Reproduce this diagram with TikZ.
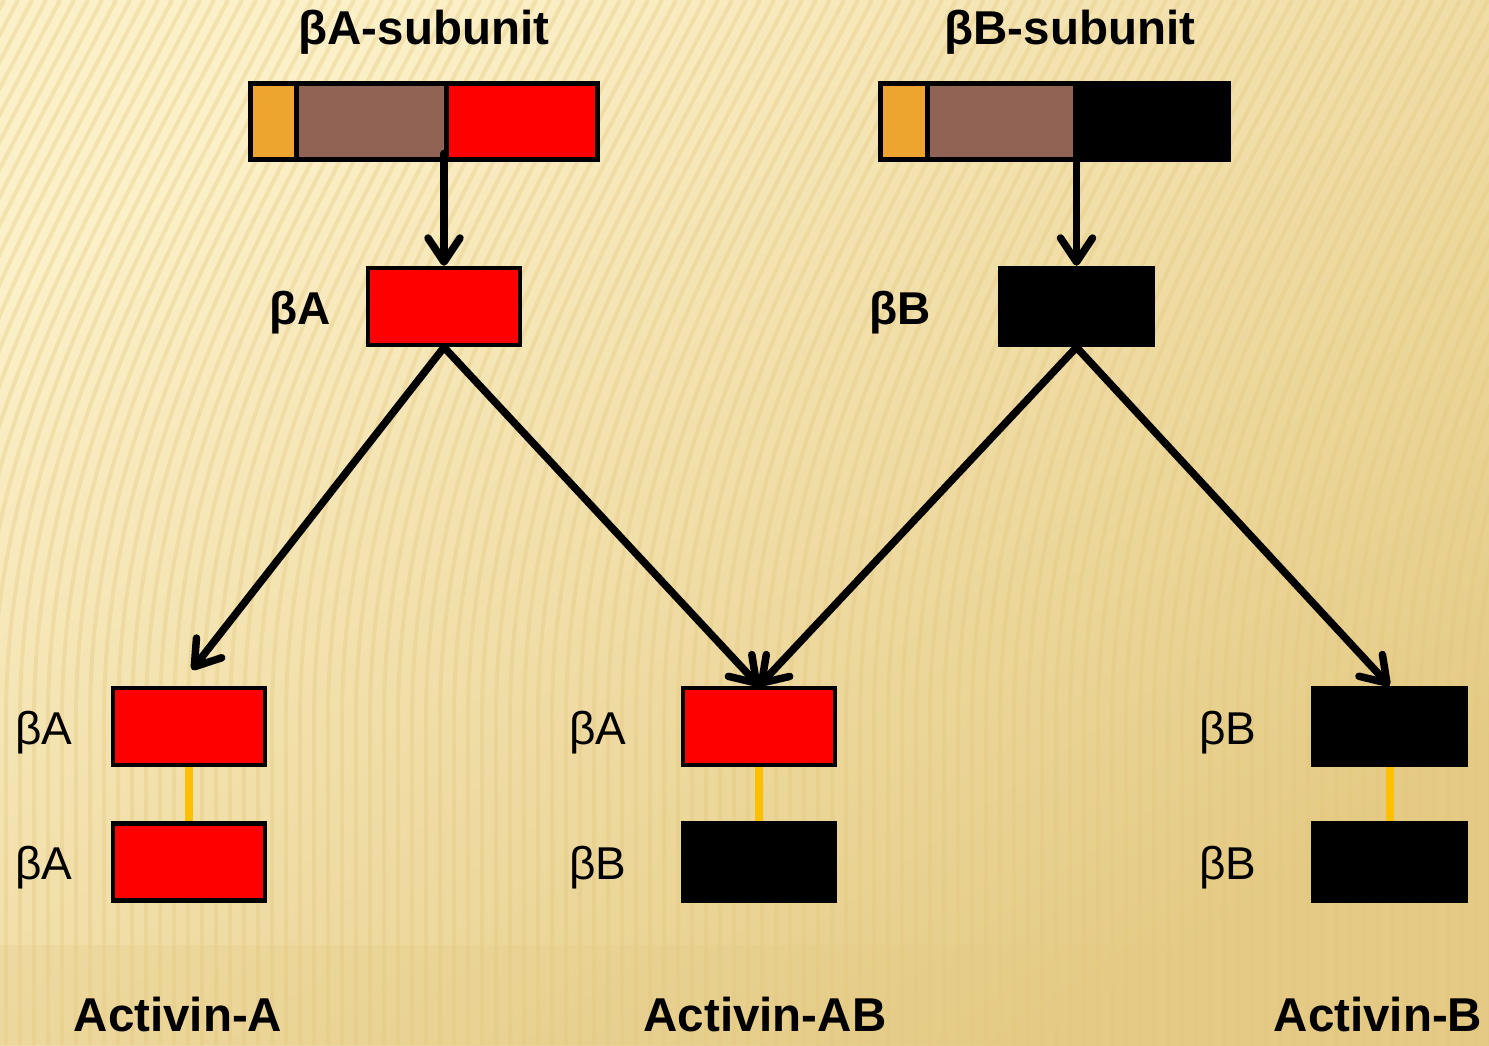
\documentclass[tikz,border=0pt]{standalone}
\usepackage{fontspec}
\setmainfont{Liberation Sans}
\usetikzlibrary{arrows.meta}
\definecolor{bgLight}{HTML}{FCF0C8}
\definecolor{bgDark}{HTML}{E4CA84}
\definecolor{stripeTan}{HTML}{E3C77E}
\definecolor{sigOrange}{HTML}{EEA530}
\definecolor{proBrown}{HTML}{916354}
\definecolor{linkGold}{HTML}{FFC000}
\begin{document}
\begin{tikzpicture}[x=1pt,y=-1pt,
  seg/.style={draw=black, line width=4.5pt, minimum height=76pt, inner sep=0pt,
              anchor=north west},
  mono/.style={draw=black, line width=4.5pt, minimum width=152pt,
               minimum height=77pt, inner sep=0pt},
  redbox/.style={mono, fill=red},
  blackbox/.style={mono, fill=black},
  arr/.style={line width=7.5pt, line cap=round,
              -{Straight Barb[length=24pt,width=32pt,line cap=round,line join=round]}},
  link/.style={draw=linkGold, line width=8pt},
  title/.style={font=\bfseries\fontsize{47.5}{56}\selectfont},
  tag/.style={font=\fontsize{46}{55}\selectfont},
  boldtag/.style={font=\bfseries\fontsize{46}{55}\selectfont}]

% canvas and striped backdrop
\useasboundingbox (0,0) rectangle (1489,1045);
\begin{scope}
  \clip (0,0) rectangle (1489,1045);
  \shade[top color=bgLight, bottom color=bgDark, shading angle=35]
    (0,0) rectangle (1489,1045);
  \foreach \x in {-400,-386,...,1500}{
    \draw[stripeTan, line width=4pt, opacity=0.35]
      (\x,1045) -- (\x,720) .. controls (\x,450) and (\x+120,250) .. (\x+250,0);
  }
  \fill[bgDark, opacity=0.25] (0,945) rectangle (1489,1045);
\end{scope}

% precursor bars
\node[seg, fill=sigOrange, minimum width=46pt]  (aSig) at (248,81) {};
\node[seg, fill=proBrown,  minimum width=150pt] (aPro) at (294,81) {};
\node[seg, fill=red,       minimum width=151pt] (aMat) at (444,81) {};
\node[seg, fill=sigOrange, minimum width=47pt]  (bSig) at (878,81) {};
\node[seg, fill=proBrown,  minimum width=148pt] (bPro) at (925,81) {};
\node[seg, fill=black,     minimum width=153pt] (bMat) at (1073,81) {};

\node[title] (aTitle) at (424,32) {βA-subunit};
\node[title] (bTitle) at (1070,32) {βB-subunit};

% mature monomers
\node[redbox]   (bA) at (444,306.5) {};
\node[blackbox] (bB) at (1076.5,306.5) {};
\node[boldtag] (bAlab) at (300,313) {βA};
\node[boldtag] (bBlab) at (900,313) {βB};

% dimers
\node[redbox]   (aa1) at (189,726.5) {};
\node[redbox]   (aa2) at (189,862) {};
\node[redbox]   (ab1) at (759,726.5) {};
\node[blackbox] (ab2) at (759,862) {};
\node[blackbox] (bb1) at (1389.5,726.5) {};
\node[blackbox] (bb2) at (1389.5,862) {};

\draw[link] (aa1.south) -- (aa2.north);
\draw[link] (ab1.south) -- (ab2.north);
\draw[link] (bb1.south) -- (bb2.north);

\node[tag] (aa1lab) at (44,733) {βA};
\node[tag] (aa2lab) at (44,868) {βA};
\node[tag] (ab1lab) at (598,733) {βA};
\node[tag] (ab2lab) at (598,868) {βB};
\node[tag] (bb1lab) at (1228,733) {βB};
\node[tag] (bb2lab) at (1228,868) {βB};

\node[title] (actA)  at (178,1015) {Activin-A};
\node[title] (actAB) at (765,1015) {Activin-AB};
\node[title] (actB)  at (1378,1015) {Activin-B};

% processing and assembly arrows
\draw[arr] (aMat.south west) ++(0,-8) -- (bA.north);
\draw[arr] (bB.north |- bMat.south) ++(0,-8) -- (bB.north);
\draw[arr] (bA.south) -- ([shift={(3,-16)}]aa1.north);
\draw[arr] (bA.south) -- (ab1.north);
\draw[arr] (bB.south) -- (ab1.north);
\draw[arr] (bB.south) -- (bb1.north);
\end{tikzpicture}
\end{document}
